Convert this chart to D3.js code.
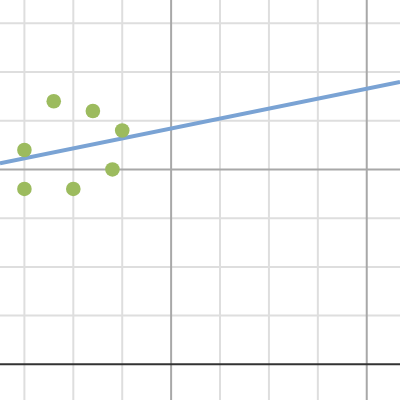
<!DOCTYPE html>
<html><head><meta charset="utf-8">
<script src="https://cdn.jsdelivr.net/npm/d3@7"></script>
<style>html,body{margin:0;padding:0;background:#fff;}svg{display:block;}</style>
</head><body>
<svg id="chart" width="400" height="400"></svg>
<script>
const xValues = [0.5, 0.8, 1.2, 1.5, 1.4, 0.5, 1.0];
const yValues = [2.2, 2.7, 2.6, 2.4, 2.0, 1.8, 1.8];
const minorStep = 0.5;
const majorStep = 2;

const W = 400, H = 400;
const x = d3.scaleLinear().domain([0.2505, 4.34]).range([0, W]);
const y = d3.scaleLinear().domain([-0.366, 3.739]).range([H, 0]);
const svg = d3.select("#chart");

const xTicks = d3.range(0, 4.5 + 1e-9, minorStep);
const yTicks = d3.range(-0.5, 4 + 1e-9, minorStep);
const isMajor = v => Math.abs(v / majorStep - Math.round(v / majorStep)) < 1e-6;

// minor grid
svg.append("g").selectAll("line").data(xTicks.filter(v => !isMajor(v))).join("line")
  .attr("x1", d => x(d)).attr("x2", d => x(d)).attr("y1", 0).attr("y2", H)
  .attr("stroke", "#dedede").attr("stroke-width", 2);
svg.append("g").selectAll("line").data(yTicks.filter(v => !isMajor(v))).join("line")
  .attr("y1", d => y(d)).attr("y2", d => y(d)).attr("x1", 0).attr("x2", W)
  .attr("stroke", "#dedede").attr("stroke-width", 2);
// major grid
svg.append("g").selectAll("line").data(xTicks.filter(v => isMajor(v) && v !== 0)).join("line")
  .attr("x1", d => x(d)).attr("x2", d => x(d)).attr("y1", 0).attr("y2", H)
  .attr("stroke", "#a8a8a8").attr("stroke-width", 2);
svg.append("g").selectAll("line").data(yTicks.filter(v => isMajor(v) && v !== 0)).join("line")
  .attr("y1", d => y(d)).attr("y2", d => y(d)).attr("x1", 0).attr("x2", W)
  .attr("stroke", "#a8a8a8").attr("stroke-width", 2);
// axes
svg.append("line").attr("x1", 0).attr("x2", W).attr("y1", y(0)).attr("y2", y(0))
  .attr("stroke", "#333").attr("stroke-width", 2);
svg.append("line").attr("x1", x(0)).attr("x2", x(0)).attr("y1", 0).attr("y2", H)
  .attr("stroke", "#333").attr("stroke-width", 2);

// regression line
const pts = xValues.map((v, i) => [v, yValues[i]]);
const mx = d3.mean(xValues), my = d3.mean(yValues);
const slope = d3.sum(pts, p => (p[0] - mx) * (p[1] - my)) / d3.sum(pts, p => (p[0] - mx) ** 2);
const icpt = my - slope * mx;
const [x0, x1] = x.domain();
svg.append("line")
  .attr("x1", x(x0)).attr("y1", y(icpt + slope * x0))
  .attr("x2", x(x1)).attr("y2", y(icpt + slope * x1))
  .attr("stroke", "#7aa3d4").attr("stroke-width", 4);

// points
svg.append("g").selectAll("circle").data(pts).join("circle")
  .attr("cx", d => x(d[0])).attr("cy", d => y(d[1])).attr("r", 7.3)
  .attr("fill", "#9cbb5e");
</script>
</body></html>
